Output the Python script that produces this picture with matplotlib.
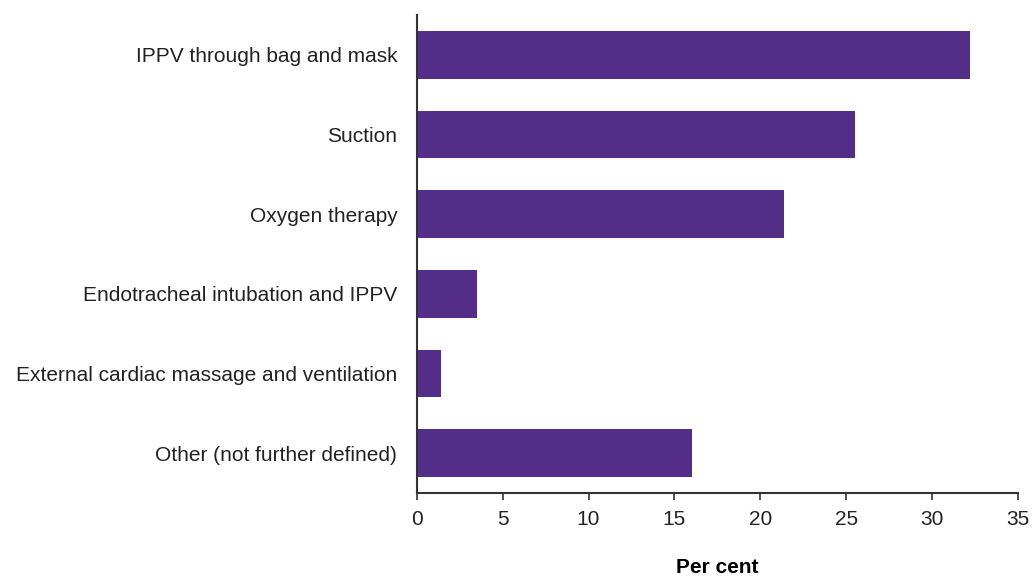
import matplotlib
matplotlib.use("Agg")
from matplotlib import pyplot as plt

categories = [
    "IPPV through bag and mask",
    "Suction",
    "Oxygen therapy",
    "Endotracheal intubation and IPPV",
    "External cardiac massage and ventilation",
    "Other (not further defined)",
]
values = [32.2, 25.5, 21.4, 3.5, 1.4, 16.0]
xticks = [0, 5, 10, 15, 20, 25, 30, 35]

plt.rcParams["font.family"] = ["Liberation Sans", "DejaVu Sans"]

fig = plt.figure(figsize=(10.33, 5.76), dpi=100)
ax = fig.add_axes([0.4034, 0.1441, 0.5821, 0.8299])

pos = list(range(len(categories)))[::-1]
ax.barh(pos, values, height=0.6, color="#532D87")

ax.set_ylim(-0.5, 5.5)
ax.set_xlim(0, 35)
ax.set_yticks(pos)
ax.set_yticklabels(categories, fontsize=15, color="#222222")
ax.set_xticks(xticks)
ax.set_xticklabels([str(t) for t in xticks], fontsize=15, color="#222222")
ax.tick_params(axis="y", length=0, pad=14)
ax.tick_params(axis="x", length=5, width=1.2, color="#333333", pad=7)

for s in ["top", "right"]:
    ax.spines[s].set_visible(False)
for s in ["left", "bottom"]:
    ax.spines[s].set_color("#333333")
    ax.spines[s].set_linewidth(1.5)

ax.set_xlabel("Per cent", fontsize=15, fontweight="bold", labelpad=21)

fig.savefig("out.png", dpi=100)
